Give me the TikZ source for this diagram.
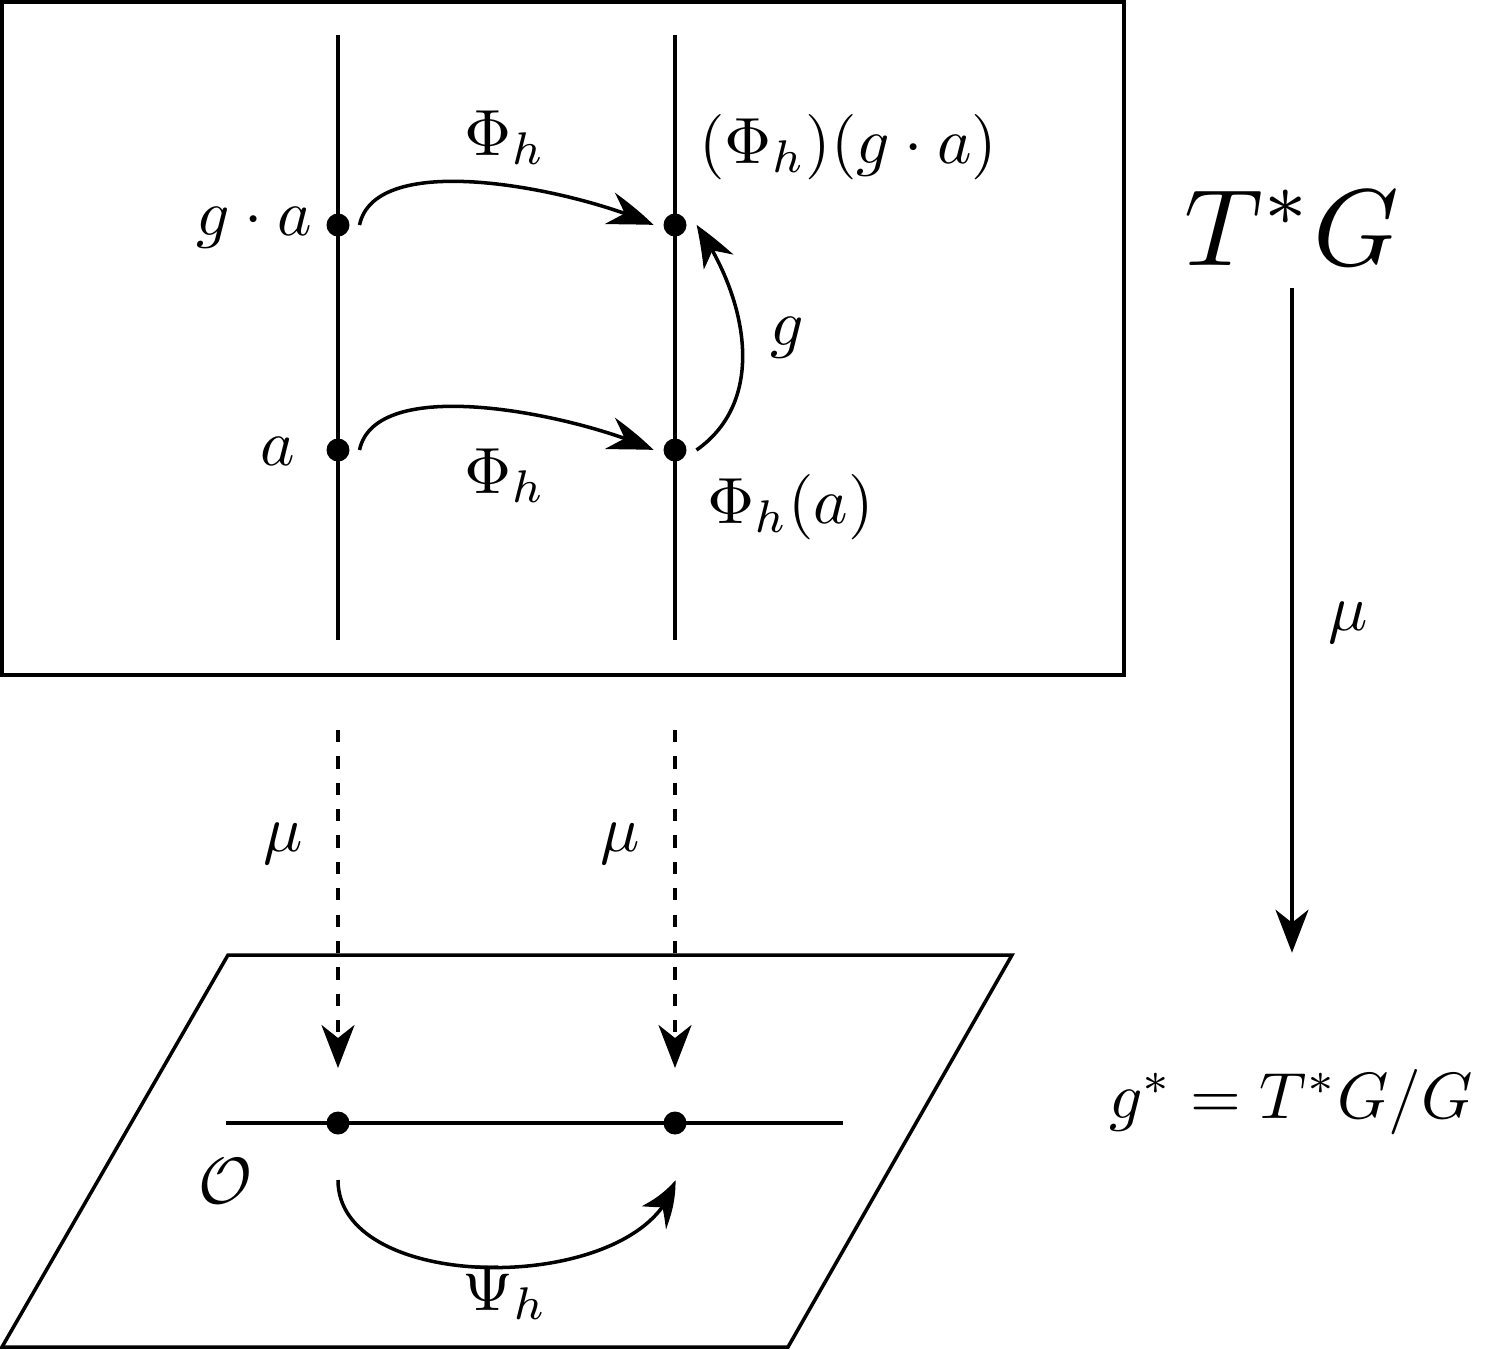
\documentclass[tikz,border=0pt]{standalone}
\usepackage{amsmath}
\usetikzlibrary{arrows.meta, bending, positioning}

\begin{document}
\begin{tikzpicture}[line width=1pt,
        lbl/.style={scale=1.86, inner sep=0pt},
        big/.style={scale=3.1, inner sep=0pt},
        dot/.style={circle, fill, inner sep=0pt, minimum size=0.23cm, outer sep=0.1cm},
        arrow/.style={-{Stealth[length=0.43cm, width=0.33cm, inset=0.13cm, bend]}},
        dasharrow/.style={arrow, dash pattern=on 3.5pt off 4pt}]

    \useasboundingbox (0,0) rectangle (14.97,-13.5);

    % upper frame with the two fibres
    \draw (0.02,-0.02) rectangle (11.24,-6.75);
    \coordinate (l1top) at (3.38,-0.35);
    \coordinate (l1bot) at (3.38,-6.40);
    \coordinate (l2top) at (6.75,-0.35);
    \coordinate (l2bot) at (6.75,-6.40);
    \draw (l1top) -- (l1bot);
    \draw (l2top) -- (l2bot);

    \node[dot] (ga) at (3.38,-2.25) {};
    \node[dot] (a) at (3.38,-4.50) {};
    \node[dot] (phga) at (6.75,-2.25) {};
    \node[dot] (pha) at (6.75,-4.50) {};

    \node[lbl, anchor=base east] (lga) at (3.15,-2.35) {$g\cdot a$};
    \node[lbl, anchor=base east] (la) at (2.98,-4.65) {$a$};
    \node[lbl, anchor=base] (lphitop) at (5.05,-1.55) {$\Phi_h$};
    \node[lbl, anchor=base] (lphibot) at (5.05,-4.93) {$\Phi_h$};
    \node[lbl, anchor=base west] (lphiga) at (6.96,-1.63) {$(\Phi_h)(g\cdot a)$};
    \node[lbl, anchor=base west] (lphia) at (7.04,-5.23) {$\Phi_h(a)$};
    \node[lbl, anchor=base] (lg) at (7.87,-3.45) {$g$};

    \draw[arrow] (ga.east) to[out=78, in=155, looseness=0.7] (phga.west);
    \draw[arrow] (a.east) to[out=78, in=155, looseness=0.7] (pha.west);
    \draw[arrow] (pha.east) to[out=35, in=-55] (phga.east);

    % right column
    \node[big, anchor=base] (tg) at (12.92,-2.65) {$T^*G$};
    \node[lbl, anchor=base] (gs) at (12.91,-11.18) {$g^* = T^*G/G$};
    \node[lbl, anchor=base] (lmu) at (13.48,-6.30) {$\mu$};
    \draw[arrow, shorten <=0.18cm, shorten >=1.13cm] (tg.south) -- (tg.south |- gs.north);

    % coadjoint plane
    \draw (2.28,-9.55) -- (10.12,-9.55) -- (7.88,-13.47) -- (0.02,-13.47) -- cycle;
    \coordinate (orbL) at (2.26,-11.23);
    \coordinate (orbR) at (8.43,-11.23);
    \draw (orbL) -- (orbR);
    \node[dot] (oa) at (3.38,-11.23) {};
    \node[dot] (opha) at (6.75,-11.23) {};
    \node[lbl, anchor=base] (lorb) at (2.25,-12.03) {$\mathcal{O}$};

    \coordinate (d1) at (3.38,-7.30);
    \coordinate (d2) at (6.75,-7.30);
    \draw[dasharrow, shorten >=0.335cm] (d1) -- (oa);
    \draw[dasharrow, shorten >=0.335cm] (d2) -- (opha);
    \node[lbl, anchor=base] (lmu1) at (2.83,-8.51) {$\mu$};
    \node[lbl, anchor=base] (lmu2) at (6.20,-8.51) {$\mu$};

    \coordinate (psA) at (3.38,-11.80);
    \coordinate (psB) at (6.75,-11.80);
    \draw[arrow] (psA) to[out=-90, in=-103, looseness=0.9] (psB);
    \node[lbl, anchor=base] (lpsi) at (5.05,-13.10) {$\Psi_h$};

\end{tikzpicture}
\end{document}
